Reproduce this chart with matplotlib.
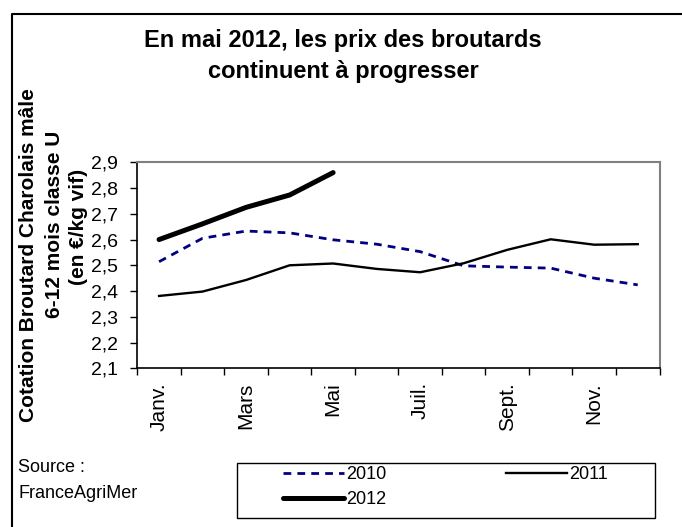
import matplotlib
matplotlib.use("Agg")
import matplotlib.pyplot as plt
from matplotlib.lines import Line2D
from matplotlib.patches import Rectangle
import numpy as np

plt.rcParams['font.family'] = ['Liberation Sans', 'DejaVu Sans']

# donnees (EUR/kg vif)
mois = ['Janv.', 'Févr.', 'Mars', 'Avr.', 'Mai', 'Juin',
        'Juil.', 'Août', 'Sept.', 'Oct.', 'Nov.', 'Déc.']
prix_2010 = [2.514, 2.605, 2.633, 2.626, 2.599, 2.582, 2.553, 2.498, 2.493, 2.489, 2.450, 2.424]
prix_2011 = [2.381, 2.398, 2.443, 2.500, 2.507, 2.486, 2.473, 2.508, 2.560, 2.601, 2.580, 2.582]
prix_2012 = [2.600, 2.661, 2.725, 2.773, 2.860]
y_ticks = [2.1, 2.2, 2.3, 2.4, 2.5, 2.6, 2.7, 2.8, 2.9]

W, H = 682, 527
fig = plt.figure(figsize=(W / 100, H / 100), dpi=100)

# cadre de la figure (haut et gauche seulement)
fig.add_artist(Line2D([12 / W, 12 / W, 1.0], [0.0, 1 - 14 / H, 1 - 14 / H],
                      color='black', lw=1.5, transform=fig.transFigure))

ax = fig.add_axes([137.3 / W, (H - 368.3) / H, (659.5 - 137.3) / W, (368.3 - 162.3) / H])

x = np.arange(len(mois))
l2010, = ax.plot(x, prix_2010, color='#000080', lw=2, dashes=(2.8, 2.2))
l2011, = ax.plot(x, prix_2011, color='black', lw=1.7)
l2012, = ax.plot(x[:len(prix_2012)], prix_2012, color='black', lw=3.6, solid_capstyle='round')

ax.set_xlim(-0.5, len(mois) - 0.5)
ax.set_ylim(y_ticks[0], y_ticks[-1])
ax.set_yticks(y_ticks)
ax.set_yticklabels([('%.1f' % v).replace('.', ',') for v in y_ticks], fontsize=14)

# graduations aux limites de categories, libelles un mois sur deux
ax.set_xticks(np.arange(len(mois) + 1) - 0.5)
ax.set_xticklabels([])
ax.set_xticks(x, minor=True)
ax.set_xticklabels([m if i % 2 == 0 else '' for i, m in enumerate(mois)],
                   minor=True, rotation=90, fontsize=15)
ax.tick_params(axis='x', which='minor', length=0, pad=10)
ax.tick_params(axis='both', which='major', direction='out', length=5, width=1, color='black')
ax.tick_params(axis='y', pad=9)

for s in ['top', 'right']:
    ax.spines[s].set_color('#808080')
    ax.spines[s].set_linewidth(1.5)
for s in ['left', 'bottom']:
    ax.spines[s].set_color('black')
    ax.spines[s].set_linewidth(1.2)

fig.text(343 / W, 1 - 56 / H, 'En mai 2012, les prix des broutards\ncontinuent à progresser',
         ha='center', va='center', fontsize=17, fontweight='bold', linespacing=1.45)

fig.text(29 / W, 1 - 255 / H, 'Cotation Broutard Charolais mâle', rotation=90,
         ha='center', va='center', fontsize=15, fontweight='bold')
fig.text(55 / W, 1 - 224 / H, '6-12 mois classe U', rotation=90,
         ha='center', va='center', fontsize=15, fontweight='bold')
fig.text(79 / W, 1 - 227 / H, '(en €/kg vif)', rotation=90,
         ha='center', va='center', fontsize=15, fontweight='bold')

fig.text(18 / W, 1 - 467 / H, 'Source :', ha='left', va='center', fontsize=13)
fig.text(18 / W, 1 - 494 / H, 'FranceAgriMer', ha='left', va='center', fontsize=13)

# cadre de la legende
fig.add_artist(Rectangle((237 / W, (H - 518) / H), (655 - 237) / W, (518 - 463) / H,
                         transform=fig.transFigure, fill=False, edgecolor='black', lw=1))
leg = fig.legend([l2010, l2012, l2011], ['2010', '2012', '2011'], ncol=2,
                 loc='upper left', bbox_to_anchor=(283 / W, 1 - 466 / H),
                 borderaxespad=0, borderpad=0, frameon=False,
                 fontsize=13, handlelength=3.4, handletextpad=0.1,
                 labelspacing=0.45, columnspacing=6.6)

fig.savefig('out.png', dpi=100)
